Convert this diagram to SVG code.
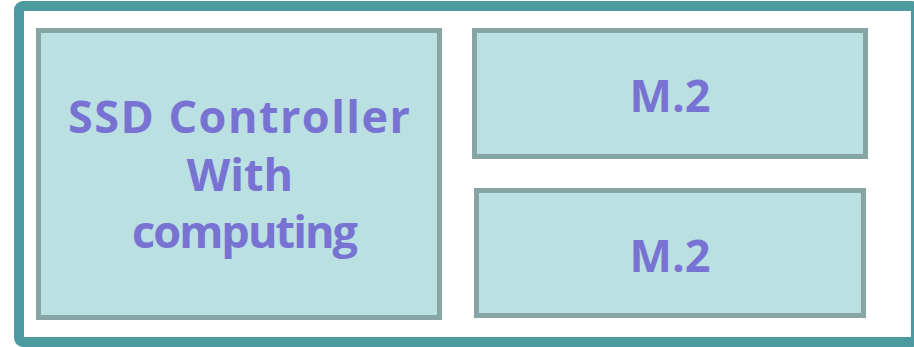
<svg xmlns="http://www.w3.org/2000/svg" width="914" height="347" viewBox="0 0 914 347">
<style>
.box{fill:#bae0e2;stroke:#88a5a5;stroke-width:5}
.t{font-family:"Open Sans",Lato,sans-serif;font-weight:bold;font-size:45px;fill:#7873d2;text-anchor:middle}
</style>
<rect id="frame" x="19" y="6" width="897" height="336" rx="4" fill="#fff" stroke="#4a9aa0" stroke-width="10"/>
<g id="controller">
<rect class="box" x="38.5" y="30.5" width="401" height="287"/>
<text class="t" x="239" y="133" textLength="342" lengthAdjust="spacing">SSD Controller</text>
<text class="t" x="240" y="191">With</text>
<text class="t" x="245" y="248" textLength="226" lengthAdjust="spacing">computing</text>
</g>
<g id="m2a">
<rect class="box" x="474.5" y="30.5" width="391" height="126"/>
<text class="t" x="670" y="112">M.2</text>
</g>
<g id="m2b">
<rect class="box" x="476.5" y="190.5" width="387" height="125"/>
<text class="t" x="670" y="272">M.2</text>
</g>
<g id="connectors"/>
</svg>
